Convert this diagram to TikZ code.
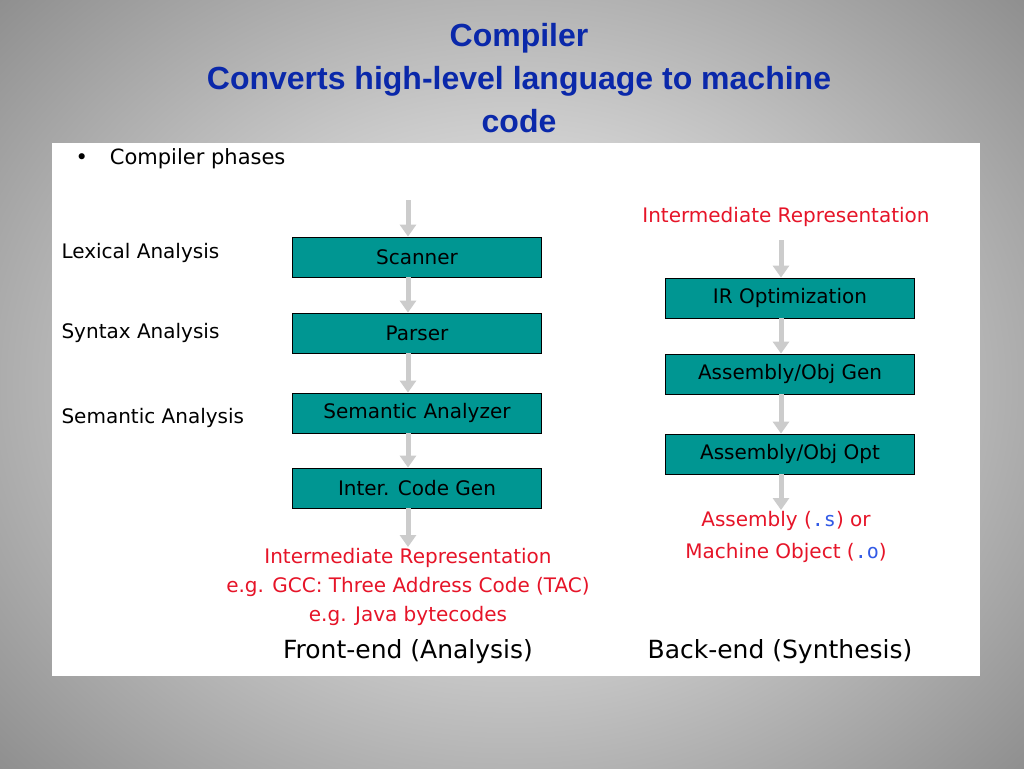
\documentclass[tikz,border=0pt]{standalone}
\usepackage{fontspec}
\setmainfont{DejaVu Sans}
\newfontfamily\titlefont{Liberation Sans}
\setmonofont{DejaVu Sans Mono}
\usetikzlibrary{arrows.meta}
\definecolor{boxteal}{RGB}{0,150,146}
\definecolor{titleblue}{RGB}{10,40,170}
\definecolor{irred}{RGB}{230,20,40}
\definecolor{monoblue}{RGB}{50,90,230}
\tikzset{phase/.style={draw=black,thick,fill=boxteal,minimum width=249pt,minimum height=40pt,inner sep=0pt,font=\fontsize{20}{24}\selectfont},
  flow/.style={line width=5pt,draw=black!20,-{Triangle[length=12pt,width=16pt]}},
  redtxt/.style={text=irred,font=\fontsize{20}{29}\selectfont,align=center},
  lbl/.style={anchor=west,font=\fontsize{20}{24}\selectfont},
  foot/.style={font=\fontsize{25}{30}\selectfont}}
\newcommand{\mono}[1]{{\color{monoblue}\ttfamily #1}}
\begin{document}
\begin{tikzpicture}[x=1pt,y=-1pt]
\useasboundingbox (0,0) rectangle (1024,768);
\shade[inner color=white,outer color=black!45] (-200,-200) rectangle (1224,968);
\fill[white] (52,143) rectangle (980,676);
% title
\node[text=titleblue,font=\titlefont\bfseries\fontsize{32}{43}\selectfont,align=center] (title) at (519,78)
 {Compiler\\Converts high-level language to machine\\code};
\node[font=\fontsize{21}{24}\selectfont,anchor=west] (bullet) at (72,159) {\textbullet\hspace{22pt}Compiler phases};
% front-end
\node[phase] (scan) at (417,257) {Scanner};
\node[phase] (parse) at (417,333) {Parser};
\node[phase] (sem) at (417,413) {Semantic Analyzer};
\node[phase] (icg) at (417,488) {Inter. Code Gen};
\node[lbl] (lex) at (58,253) {Lexical Analysis};
\node[lbl] (syn) at (58,333) {Syntax Analysis};
\node[lbl] (sma) at (58,418) {Semantic Analysis};
\coordinate (fin) at (408,200);
\coordinate (fout) at (408,547);
\draw[flow] (fin) -- (scan.north -| fin);
\draw[flow] (scan.south -| fin) -- (parse.north -| fin);
\draw[flow] (parse.south -| fin) -- (sem.north -| fin);
\draw[flow] (sem.south -| fin) -- (icg.north -| fin);
\draw[flow] (icg.south -| fin) -- (fout);
\node[redtxt] (fir) at (408,587) {Intermediate Representation\\e.g. GCC: Three Address Code (TAC)\\e.g. Java bytecodes};
% back-end
\node[redtxt] (bir) at (786,217) {Intermediate Representation};
\node[phase] (iro) at (790,298) {IR Optimization};
\node[phase] (asg) at (790,374) {Assembly/Obj Gen};
\node[phase] (aso) at (790,454) {Assembly/Obj Opt};
\coordinate (bin) at (781,240);
\coordinate (bout) at (781,510);
\draw[flow] (bin) -- (iro.north -| bin);
\draw[flow] (iro.south -| bin) -- (asg.north -| bin);
\draw[flow] (asg.south -| bin) -- (aso.north -| bin);
\draw[flow] (aso.south -| bin) -- (bout);
\node[redtxt,font=\fontsize{20}{32}\selectfont] (obj) at (786,537) {Assembly (\mono{.s}) or\\Machine Object (\mono{.o})};
% footer
\node[foot] (fe) at (408,652) {Front-end (Analysis)};
\node[foot] (be) at (780,652) {Back-end (Synthesis)};
\end{tikzpicture}
\end{document}
